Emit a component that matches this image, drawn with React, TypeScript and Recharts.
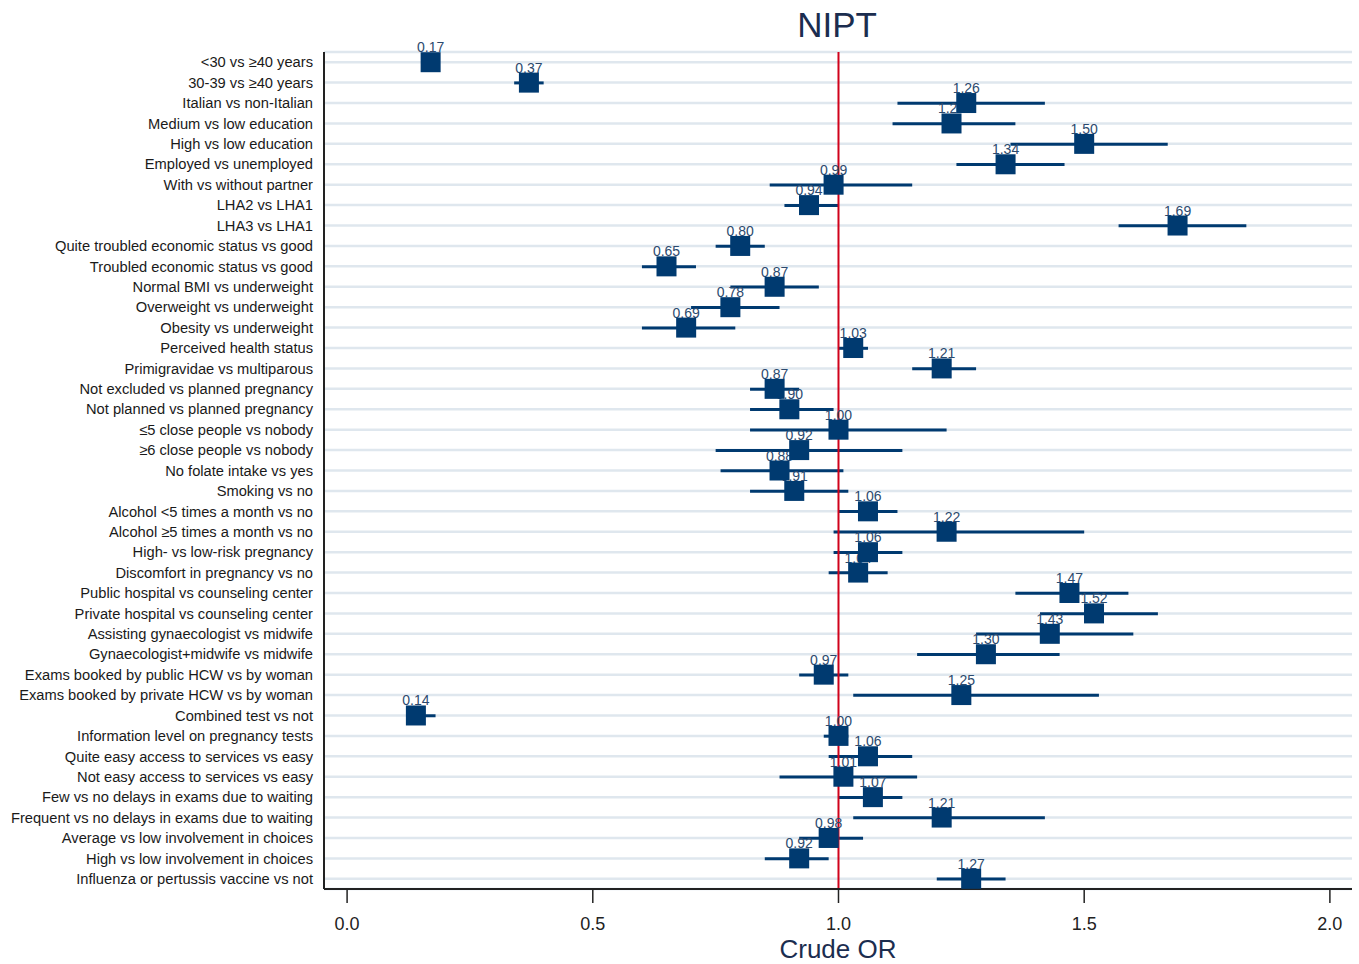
import React from "react";
import {
  ComposedChart,
  Bar,
  Scatter,
  XAxis,
  YAxis,
  CartesianGrid,
  ReferenceLine,
} from "recharts";

const labels = [
  "<30 vs ≥40 years",
  "30-39 vs ≥40 years",
  "Italian vs non-Italian",
  "Medium vs low education",
  "High vs low education",
  "Employed vs unemployed",
  "With vs without partner",
  "LHA2 vs LHA1",
  "LHA3 vs LHA1",
  "Quite troubled economic status vs good",
  "Troubled economic status vs good",
  "Normal BMI vs underweight",
  "Overweight vs underweight",
  "Obesity vs underweight",
  "Perceived health status",
  "Primigravidae vs multiparous",
  "Not excluded vs planned pregnancy",
  "Not planned vs planned pregnancy",
  "≤5 close people vs nobody",
  "≥6 close people vs nobody",
  "No folate intake vs yes",
  "Smoking vs no",
  "Alcohol <5 times a month vs no",
  "Alcohol ≥5 times a month vs no",
  "High- vs low-risk pregnancy",
  "Discomfort in pregnancy vs no",
  "Public hospital vs counseling center",
  "Private hospital vs counseling center",
  "Assisting gynaecologist vs midwife",
  "Gynaecologist+midwife vs midwife",
  "Exams booked by public HCW vs by woman",
  "Exams booked by private HCW vs by woman",
  "Combined test vs not",
  "Information level on pregnancy tests",
  "Quite easy access to services vs easy",
  "Not easy access to services vs easy",
  "Few vs no delays in exams due to waiting",
  "Frequent vs no delays in exams due to waiting",
  "Average vs low involvement in choices",
  "High vs low involvement in choices",
  "Influenza or pertussis vaccine vs not",
];

const oddsRatios = [
  0.17, 0.37, 1.26, 1.23, 1.5, 1.34, 0.99, 0.94, 1.69, 0.8, 0.65, 0.87, 0.78, 0.69,
  1.03, 1.21, 0.87, 0.9, 1.0, 0.92, 0.88, 0.91, 1.06, 1.22, 1.06, 1.04, 1.47, 1.52,
  1.43, 1.3, 0.97, 1.25, 0.14, 1.0, 1.06, 1.01, 1.07, 1.21, 0.98, 0.92, 1.27,
];

const lowerCI = [
  0.16, 0.34, 1.12, 1.11, 1.35, 1.24, 0.86, 0.89, 1.57, 0.75, 0.6, 0.78, 0.7, 0.6,
  1.0, 1.15, 0.82, 0.82, 0.82, 0.75, 0.76, 0.82, 1.0, 0.99, 0.99, 0.98, 1.36, 1.41,
  1.28, 1.16, 0.92, 1.03, 0.12, 0.97, 0.98, 0.88, 1.0, 1.03, 0.92, 0.85, 1.2,
];

const upperCI = [
  0.18, 0.4, 1.42, 1.36, 1.67, 1.46, 1.15, 1.0, 1.83, 0.85, 0.71, 0.96, 0.88, 0.79,
  1.06, 1.28, 0.92, 0.99, 1.22, 1.13, 1.01, 1.02, 1.12, 1.5, 1.13, 1.1, 1.59, 1.65,
  1.6, 1.45, 1.02, 1.53, 0.18, 1.02, 1.15, 1.16, 1.13, 1.42, 1.05, 0.98, 1.34,
];

const xTicks = [0, 0.5, 1, 1.5, 2];

const data = labels.map((label, i) => ({
  label,
  or: oddsRatios[i],
  ci: [lowerCI[i], upperCI[i]],
}));

const NAVY = "#003a70";
const FONT = "'Liberation Sans', Arial, sans-serif";

const SquareShape = (props: any) => {
  const { cx, cy } = props;
  if (cx == null || cy == null) return null;
  return <rect x={cx - 10} y={cy - 10} width={20} height={20} fill={NAVY} />;
};

const LabelShape = (props: any) => {
  const { cx, cy, payload } = props;
  if (cx == null || cy == null) return null;
  return (
    <text
      x={cx}
      y={cy - 10}
      textAnchor="middle"
      fontSize={14}
      fontFamily={FONT}
      fill="#2c4a6e"
    >
      {payload.or.toFixed(2)}
    </text>
  );
};

export default function App() {
  return (
    <div style={{ position: "absolute", left: 0, top: 0, width: 1359, height: 964, fontFamily: FONT }}>
      <div
        style={{
          position: "absolute",
          left: 737,
          top: 5,
          width: 200,
          textAlign: "center",
          fontSize: 35,
          lineHeight: "40px",
          color: "#1b2d4f",
          fontFamily: FONT,
        }}
      >
        NIPT
      </div>
      <ComposedChart
        width={1359}
        height={964}
        data={data}
        layout="vertical"
        margin={{ top: 52, right: 7, bottom: 0, left: 0 }}
      >
        <CartesianGrid horizontal vertical={false} stroke="#dfe7ee" strokeWidth={2.5} />
        <XAxis
          type="number"
          domain={[-0.047, 2.045]}
          ticks={xTicks}
          allowDataOverflow
          height={75}
          tickFormatter={(v: number) => v.toFixed(1)}
          axisLine={{ stroke: "#222", strokeWidth: 2 }}
          tickLine={{ stroke: "#222", strokeWidth: 1.5 }}
          tickSize={14}
          tickMargin={14}
          tick={{ fontSize: 18, fill: "#222", fontFamily: FONT }}
          label={{ value: "Crude OR", position: "insideBottom", offset: 6, fontSize: 26, fill: "#1b2d4f", fontFamily: FONT }}
        />
        <YAxis
          type="category"
          dataKey="label"
          width={324}
          interval={0}
          axisLine={{ stroke: "#222", strokeWidth: 2 }}
          tickLine={false}
          tickSize={0}
          tickMargin={11}
          tick={{ fontSize: 14.7, fill: "#1a1a1a", fontFamily: FONT }}
        />
        <Bar dataKey="ci" barSize={3} fill={NAVY} isAnimationActive={false} />
        <Scatter dataKey="or" shape={LabelShape} isAnimationActive={false} />
        <ReferenceLine x={1} stroke="#d0021b" strokeWidth={2} />
        <Scatter dataKey="or" shape={SquareShape} isAnimationActive={false} />
      </ComposedChart>
    </div>
  );
}
